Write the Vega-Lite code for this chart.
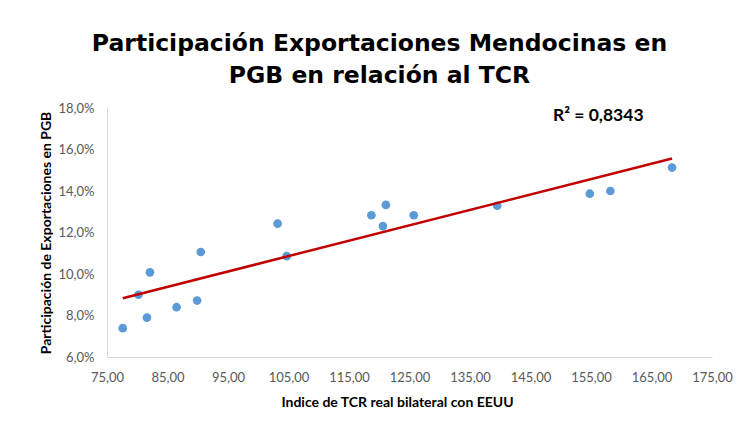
{
  "$schema": "https://vega.github.io/schema/vega-lite/v6.json",
  "width": 605,
  "height": 249,
  "autosize": {"type": "none"},
  "padding": {"left": 107, "top": 108, "right": 27, "bottom": 73},
  "background": "white",
  "title": {
    "text": ["Participación Exportaciones Mendocinas en", "PGB en relación al TCR"],
    "font": "DejaVu Sans",
    "fontSize": 23.5,
    "fontWeight": "bold",
    "color": "#000000",
    "anchor": "middle",
    "dx": -30,
    "baseline": "middle",
    "lineHeight": 32,
    "offset": 3
  },
  "datasets": {
    "pts": [
      {"tcr": 77.6, "part": 0.0739},
      {"tcr": 80.2, "part": 0.0900},
      {"tcr": 81.6, "part": 0.0790},
      {"tcr": 82.1, "part": 0.1008},
      {"tcr": 86.5, "part": 0.0840},
      {"tcr": 89.9, "part": 0.0872},
      {"tcr": 90.5, "part": 0.1106},
      {"tcr": 103.2, "part": 0.1243},
      {"tcr": 104.7, "part": 0.1086},
      {"tcr": 118.7, "part": 0.1283},
      {"tcr": 120.6, "part": 0.1231},
      {"tcr": 121.1, "part": 0.1333},
      {"tcr": 125.7, "part": 0.1283},
      {"tcr": 139.5, "part": 0.1329},
      {"tcr": 154.8, "part": 0.1387},
      {"tcr": 158.2, "part": 0.1400},
      {"tcr": 168.4, "part": 0.1513}
    ],
    "ann": [
      {"tcr": 156.2, "part": 0.1763, "label": "R² = 0,8343"}
    ]
  },
  "layer": [
    {
      "data": {"name": "pts"},
      "mark": {"type": "circle", "color": "#5B9BD5", "opacity": 1, "size": 75},
      "encoding": {
        "x": {
          "field": "tcr", "type": "quantitative",
          "scale": {"domain": [75, 175], "nice": false, "zero": false},
          "axis": {
            "values": [75, 85, 95, 105, 115, 125, 135, 145, 155, 165, 175],
            "labelExpr": "replace(format(datum.value, '.2f'), '.', ',')",
            "labelFlush": false,
            "labelOverlap": false,
            "title": "Indice de TCR real bilateral con EEUU",
            "titleX": 290,
            "titleAlign": "center",
            "grid": false,
            "ticks": false,
            "domainColor": "#D9D9D9",
            "labelFont": "Lato",
            "labelFontSize": 13,
            "labelColor": "#595959",
            "labelPadding": 14,
            "titleFont": "Lato",
            "titleFontSize": 14,
            "titleFontWeight": "bold",
            "titleColor": "#000000",
            "titlePadding": 11
          }
        },
        "y": {
          "field": "part", "type": "quantitative",
          "scale": {"domain": [0.06, 0.18], "nice": false, "zero": false},
          "axis": {
            "values": [0.06, 0.08, 0.10, 0.12, 0.14, 0.16, 0.18],
            "labelExpr": "replace(format(datum.value, '.1%'), '.', ',')",
            "labelFlush": false,
            "title": "Participación de Exportaciones en PGB",
            "grid": false,
            "ticks": false,
            "domainColor": "#D9D9D9",
            "labelFont": "Lato",
            "labelFontSize": 13,
            "labelColor": "#595959",
            "labelPadding": 13,
            "titleFont": "Lato",
            "titleFontSize": 14,
            "titleFontWeight": "bold",
            "titleColor": "#000000",
            "titlePadding": 5
          }
        }
      }
    },
    {
      "data": {"name": "pts"},
      "transform": [{"regression": "part", "on": "tcr"}],
      "mark": {"type": "line", "color": "#C00000", "strokeWidth": 2.5},
      "encoding": {
        "x": {"field": "tcr", "type": "quantitative"},
        "y": {"field": "part", "type": "quantitative"}
      }
    },
    {
      "data": {"name": "ann"},
      "mark": {"type": "text", "font": "Lato", "fontSize": 17.5, "fontWeight": "bold", "color": "#000000", "align": "center", "baseline": "middle"},
      "encoding": {
        "x": {"field": "tcr", "type": "quantitative"},
        "y": {"field": "part", "type": "quantitative"},
        "text": {"field": "label"}
      }
    }
  ],
  "config": {
    "view": {"stroke": null}
  }
}
